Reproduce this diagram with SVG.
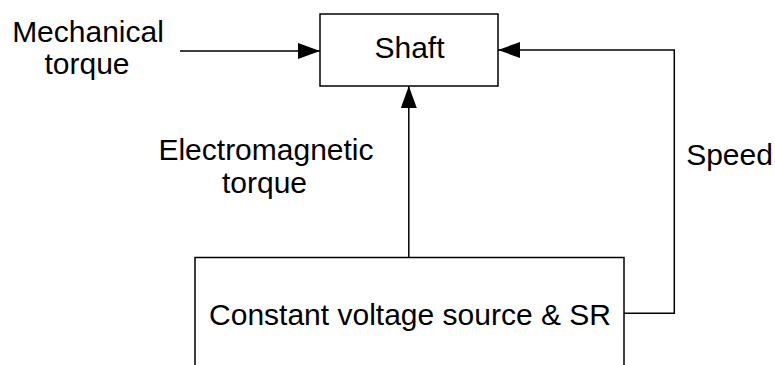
<svg xmlns="http://www.w3.org/2000/svg" width="775" height="365" viewBox="0 0 775 365">
  <style>
    .box { fill: #ffffff; stroke: #000000; stroke-width: 1.5; }
    .wire { fill: none; stroke: #000000; stroke-width: 1.5; }
    .lbl { font-family: "Liberation Sans", Arial, sans-serif; font-size: 30px; fill: #000000; text-anchor: middle; }
  </style>
  <defs>
    <marker id="arrow" markerUnits="userSpaceOnUse" markerWidth="24" markerHeight="18" refX="22" refY="8" orient="auto">
      <path d="M0,0 L22,8 L0,16 Z" fill="#000000"/>
    </marker>
  </defs>
  <rect width="775" height="365" fill="#ffffff"/>
  <g id="connectors">
    <line class="wire" x1="180" y1="51" x2="320" y2="51" marker-end="url(#arrow)"/>
    <line class="wire" x1="408.8" y1="257.5" x2="408.8" y2="86" marker-end="url(#arrow)"/>
    <polyline class="wire" points="624,313.3 674.3,313.3 674.3,50 498,50" marker-end="url(#arrow)"/>
  </g>
  <g id="shaft">
    <rect class="box" x="320" y="14" width="178" height="72"/>
    <text class="lbl" x="409.5" y="57.5">Shaft</text>
  </g>
  <g id="source">
    <rect class="box" x="195" y="257.5" width="429" height="130"/>
    <text class="lbl" x="410" y="325">Constant voltage source &amp; SR</text>
  </g>
  <g id="labels">
    <text class="lbl" x="88" y="41.5">Mechanical</text>
    <text class="lbl" x="87" y="73.5">torque</text>
    <text class="lbl" x="266" y="160">Electromagnetic</text>
    <text class="lbl" x="264.5" y="193">torque</text>
    <text class="lbl" x="729.5" y="164.5">Speed</text>
  </g>
</svg>
